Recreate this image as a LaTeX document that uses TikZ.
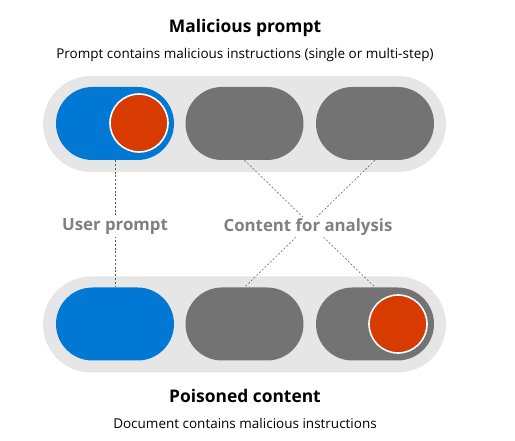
\documentclass[tikz,border=0pt]{standalone}
\usepackage{fontspec}
\setmainfont{Open Sans}
\usepackage{xcolor}
\usepackage{tikz}
\definecolor{msblue}{HTML}{0078D4}
\definecolor{msgray}{HTML}{737373}
\definecolor{mstrack}{HTML}{E6E6E6}
\definecolor{msred}{HTML}{D83B01}
\definecolor{mslabel}{HTML}{808080}

\tikzset{
  track/.style={fill=mstrack, rounded corners=48pt, minimum width=403pt,
                minimum height=96pt, inner sep=0pt},
  pill/.style={rounded corners=36.5pt, minimum width=118pt,
               minimum height=73pt, inner sep=0pt},
  bead/.style={circle, fill=msred, draw=white, line width=1.6pt,
               minimum size=58pt, inner sep=0pt},
  link/.style={draw=black!65, line width=0.5pt, dash pattern=on 2pt off 1.8pt},
  tag/.style={fill=white, text=mslabel, font=\fontsize{16.8}{19}\selectfont\bfseries,
              inner sep=2pt}
}

\begin{document}
\begin{tikzpicture}[x=1pt, y=-1pt]
  \useasboundingbox (0,0) rectangle (515,441);

  % ══ HEADINGS ══════════════════════════════════════════════════
  \node[font=\fontsize{17.4}{20}\selectfont\bfseries] (ttop) at (245,28) {Malicious prompt};
  \node[font=\fontsize{13.5}{16}\selectfont] (stop) at (245,55)
    {Prompt contains malicious instructions (single or multi-step)};

  % ══ TRACKS ════════════════════════════════════════════════════
  \node[track] (trup) at (244.5,124) {};
  \node[track] (trlo) at (244.5,324.5) {};

  % ══ PILLS: prompt row ═════════════════════════════════════════
  \node[pill, fill=msblue] (up1) at (115,123.5) {};
  \node[pill, fill=msgray] (up2) at (244.5,123.5) {};
  \node[pill, fill=msgray] (up3) at (375,123.5) {};
  \node[bead] (redup) at (139,123) {};

  % ══ PILLS: content row ════════════════════════════════════════
  \node[pill, fill=msblue] (lo1) at (115,324) {};
  \node[pill, fill=msgray] (lo2) at (244.5,324) {};
  \node[pill, fill=msgray] (lo3) at (375,324) {};
  \node[bead] (redlo) at (398,324) {};

  % ══ LINKS ═════════════════════════════════════════════════════
  \draw[link] (up1.south) -- (lo1.north);
  \draw[link] (up2.south) -- (lo3.north);
  \draw[link] (up3.south) -- (lo2.north);

  % ══ LABELS ════════════════════════════════════════════════════
  \node[tag] (luser) at (115,227) {User prompt};
  \node[tag] (lcont) at (308,227) {Content for analysis};

  % ══ FOOTER ════════════════════════════════════════════════════
  \node[font=\fontsize{17.4}{20}\selectfont\bfseries] (tlow) at (245,396) {Poisoned content};
  \node[font=\fontsize{13.5}{16}\selectfont] (slow) at (245,423)
    {Document contains malicious instructions};

\end{tikzpicture}
\end{document}
